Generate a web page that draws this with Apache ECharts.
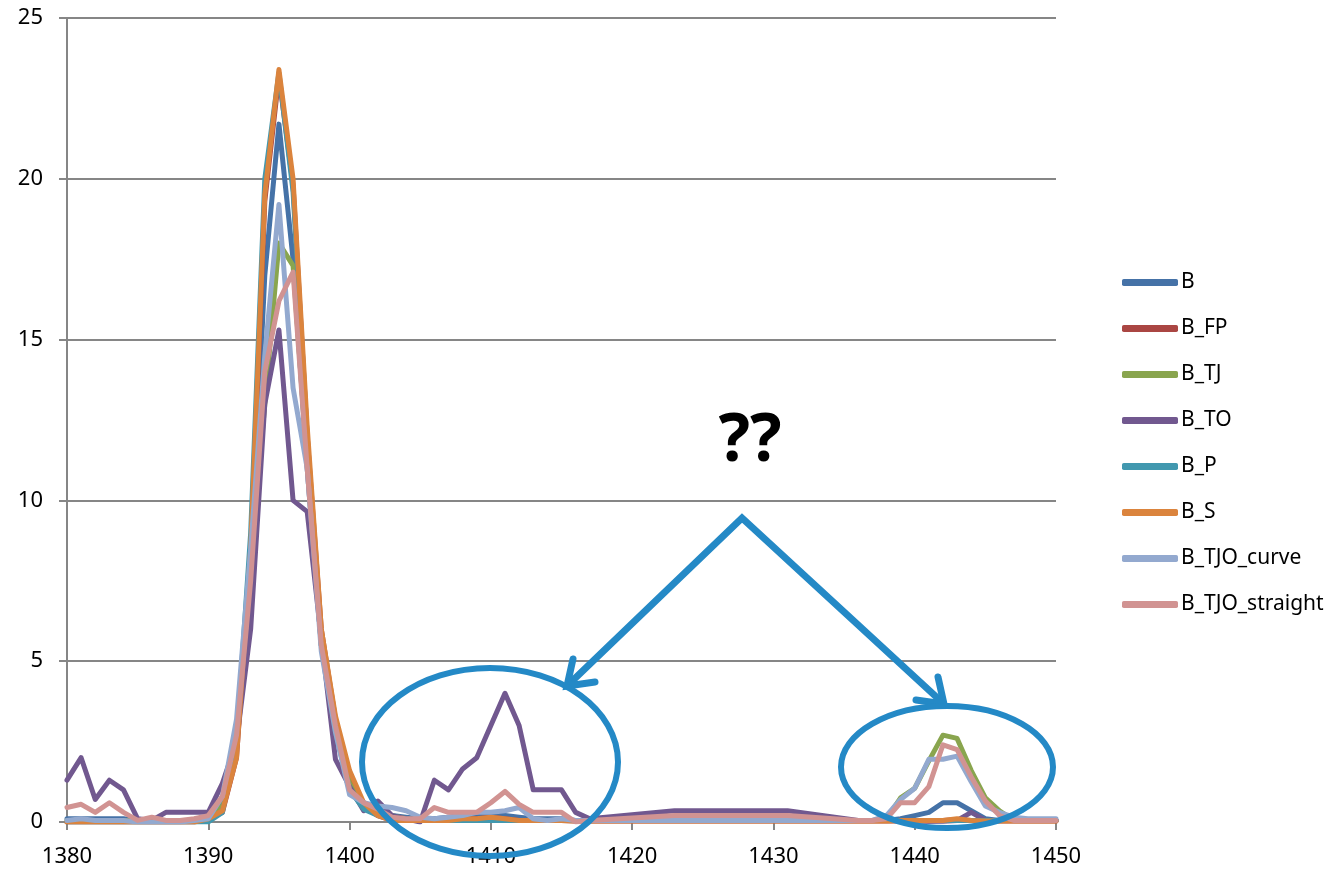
<!DOCTYPE html>
<html>
<head>
<meta charset="utf-8">
<script src="https://cdn.jsdelivr.net/npm/echarts@6/dist/echarts.min.js"></script>
<style>
html,body{margin:0;padding:0;background:#fff;}
#chart{width:1337px;height:872px;}
</style>
</head>
<body>
<div id="chart"></div>
<script>
// x positions (wavenumber-like axis)
const xs = [
  1380,1381,1382,1383,1384,1385,1386,1387,1388,1389,
  1390,1391,1392,1393,1394,1395,1396,1397,1398,1399,
  1400,1401,1402,1403,1404,1405,1406,1407,1408,1409,
  1410,1411,1412,1413,1414,1415,1416,1417,
  1423,1431,
  1436,1437,1438,1439,1440,1441,1442,1443,1444,1445,1446,1447,1448,1449,1450
];
const seriesNames = ['B','B_FP','B_TJ','B_TO','B_P','B_S','B_TJO_curve','B_TJO_straight'];

const vB = [
  0.1,0.1,0.1,0.1,0.1,0.05,0.05,0.05,0.05,0.05,
  0.1,0.6,2.3,8.0,17.0,21.7,17.5,11.0,5.5,3.0,
  1.2,0.6,0.3,0.2,0.15,0.1,0.1,0.15,0.2,0.2,
  0.2,0.2,0.15,0.1,0.1,0.1,0.05,0.05,
  0.05,0.05,
  0.05,0.05,0.05,0.1,0.2,0.3,0.6,0.6,0.35,0.1,0.05,0.05,0.05,0.05,0.05
];
const vB_FP = [
  0,0,0,0,0,0,0,0,0,0,
  0.1,0.3,2.0,8.2,19.3,23.2,19.8,12.0,6.0,3.2,
  1.5,0.5,0.2,0.05,0.05,0.05,0.05,0.05,0.1,0.1,
  0.15,0.1,0.05,0.05,0.05,0.05,0.03,0.03,
  0.03,0.03,
  0.03,0.03,0.03,0.03,0.03,0.03,0.05,0.08,0.05,0.03,0.03,0.03,0.03,0.03,0.03
];
const vB_TJ = [
  0.05,0.05,0.05,0.05,0.05,0.03,0.03,0.03,0.03,0.05,
  0.1,0.5,2.5,8.0,13.0,18.0,17.3,11.2,5.5,3.0,
  1.2,0.5,0.3,0.2,0.1,0.05,0.05,0.05,0.05,0.05,
  0.05,0.05,0.05,0.05,0.05,0.05,0.05,0.05,
  0.05,0.05,
  0.05,0.05,0.1,0.75,1.05,1.9,2.7,2.6,1.6,0.75,0.35,0.05,0.05,0.05,0.05
];
const vB_TO = [
  1.3,2.0,0.7,1.3,1.0,0.1,0.05,0.3,0.3,0.3,
  0.3,1.2,2.5,6.0,13.0,15.3,10.0,9.65,5.7,1.95,
  1.1,0.35,0.65,0.2,0.1,0.0,1.3,1.0,1.65,2.0,
  3.0,4.0,3.0,1.0,1.0,1.0,0.3,0.1,
  0.35,0.35,
  0.05,0.05,0.05,0.05,0.05,0.02,0.02,0.05,0.3,0.05,0.05,0.05,0.05,0.05,0.05
];
const vB_P = [
  0,0,0,0,0,0,0,0,0,0,
  0.0,0.3,2.5,9.0,20.0,23.3,19.6,12.0,5.5,2.8,
  1.0,0.4,0.2,0.1,0.05,0.05,0.05,0.05,0.05,0.05,
  0.05,0.05,0.05,0.05,0.05,0.05,0.05,0.05,
  0.05,0.05,
  0.05,0.05,0.05,0.05,0.05,0.05,0.05,0.05,0.05,0.05,0.05,0.05,0.05,0.05,0.05
];
const vB_S = [
  0,0,0,0,0,0,0,0,0,0,
  0.1,0.35,2.0,8.5,19.5,23.4,20.0,12.3,6.0,3.3,
  1.6,0.6,0.2,0.05,0.05,0.05,0.05,0.05,0.1,0.1,
  0.15,0.1,0.05,0.05,0.05,0.05,0.03,0.03,
  0.03,0.03,
  0.03,0.03,0.03,0.05,0.05,0.05,0.05,0.1,0.05,0.03,0.03,0.03,0.03,0.03,0.03
];
const vB_TJO_curve = [
  0.05,0.1,0.05,0.05,0.05,0.0,0.0,0.0,0.0,0.05,
  0.1,0.8,3.2,8.5,14.5,19.2,13.5,11.0,5.3,2.8,
  0.85,0.6,0.5,0.45,0.35,0.15,0.1,0.15,0.2,0.3,
  0.3,0.35,0.45,0.1,0.05,0.1,0.05,0.05,
  0.05,0.05,
  0.05,0.05,0.2,0.7,1.05,1.95,1.95,2.05,1.25,0.5,0.3,0.15,0.1,0.1,0.1
];
const vB_TJO_straight = [
  0.45,0.55,0.3,0.6,0.3,0.05,0.15,0.05,0.05,0.1,
  0.2,0.8,2.7,7.5,14.0,16.2,17.1,11.0,5.5,3.0,
  1.0,0.6,0.4,0.15,0.1,0.1,0.45,0.3,0.3,0.3,
  0.6,0.95,0.55,0.3,0.3,0.3,0.0,0.05,
  0.2,0.2,
  0.05,0.05,0.1,0.6,0.6,1.1,2.4,2.25,1.4,0.65,0.2,0.05,0.05,0.05,0.05
];
const allValues = [vB, vB_FP, vB_TJ, vB_TO, vB_P, vB_S, vB_TJO_curve, vB_TJO_straight];
const colors = ['#4572A7','#AA4643','#89A54E','#71588F','#4198AF','#DB843D','#93A9CF','#D19392'];

const xTickMin = 1380, xTickMax = 1450, xTickStep = 10;
const yTickMin = 0, yTickMax = 25, yTickStep = 5;
const noteText = '??';

const FONT = '"Noto Sans", "Open Sans", sans-serif';
const ANN = '#2489c6';

const chart = echarts.init(document.getElementById('chart'), null, {renderer: 'canvas'});

const series = seriesNames.map((name, k) => ({
  name: name,
  type: 'line',
  data: xs.map((x, i) => [x, allValues[k][i]]),
  showSymbol: false,
  symbol: 'none',
  smooth: false,
  color: colors[k],
  lineStyle: {width: 5, color: colors[k], cap: 'round', join: 'round'},
  emphasis: {disabled: true},
  animation: false,
  z: 2
}));

const option = {
  animation: false,
  backgroundColor: '#fff',
  grid: {left: 67, right: 281, top: 18, bottom: 50, containLabel: false},
  xAxis: {
    type: 'value', min: xTickMin, max: xTickMax, interval: xTickStep,
    axisLine: {show: true, onZero: false, lineStyle: {color: '#868686', width: 2}},
    axisTick: {show: true, length: 8, lineStyle: {color: '#868686', width: 2}},
    axisLabel: {color: '#000', fontFamily: FONT, fontSize: 22, margin: 24,
      formatter: v => String(v)},
    splitLine: {show: false}
  },
  yAxis: {
    type: 'value', min: yTickMin, max: yTickMax, interval: yTickStep,
    axisLine: {show: true, lineStyle: {color: '#868686', width: 2}},
    axisTick: {show: true, length: 8, lineStyle: {color: '#868686', width: 2}},
    axisLabel: {color: '#000', fontFamily: FONT, fontSize: 22, margin: 24,
      formatter: v => String(v)},
    splitLine: {show: true, lineStyle: {color: '#868686', width: 2}}
  },
  legend: {
    orient: 'vertical',
    left: 1122,
    top: 272,
    padding: 0,
    itemWidth: 56,
    itemHeight: 7,
    itemGap: 25,
    icon: 'roundRect',
    data: seriesNames,
    textStyle: {color: '#000', fontFamily: FONT, fontSize: 21, lineHeight: 21, padding: [0,0,0,-2]},
    selectedMode: false
  },
  series: series,
  graphic: [
    {type: 'text', x: 750, y: 442, z: 100,
     style: {text: noteText, fill: '#000', font: 'bold 66px ' + FONT, textAlign: 'center', textVerticalAlign: 'middle'}},
    {type: 'polyline', z: 100, shape: {points: [[567,686],[742,518],[944,704]]},
     style: {stroke: ANN, lineWidth: 7, fill: null, lineJoin: 'miter'}},
    {type: 'polyline', z: 100, shape: {points: [[573,659],[567,686],[595,682]]},
     style: {stroke: ANN, lineWidth: 7, fill: null, lineCap: 'round', lineJoin: 'miter'}},
    {type: 'polyline', z: 100, shape: {points: [[938,677],[944,704],[916,700]]},
     style: {stroke: ANN, lineWidth: 7, fill: null, lineCap: 'round', lineJoin: 'miter'}},
    {type: 'ellipse', z: 100, shape: {cx: 490, cy: 762, rx: 128, ry: 94},
     style: {stroke: ANN, lineWidth: 6, fill: null}},
    {type: 'ellipse', z: 100, shape: {cx: 947, cy: 767, rx: 106, ry: 61},
     style: {stroke: ANN, lineWidth: 6, fill: null}}
  ]
};
chart.setOption(option);
</script>
</body>
</html>
